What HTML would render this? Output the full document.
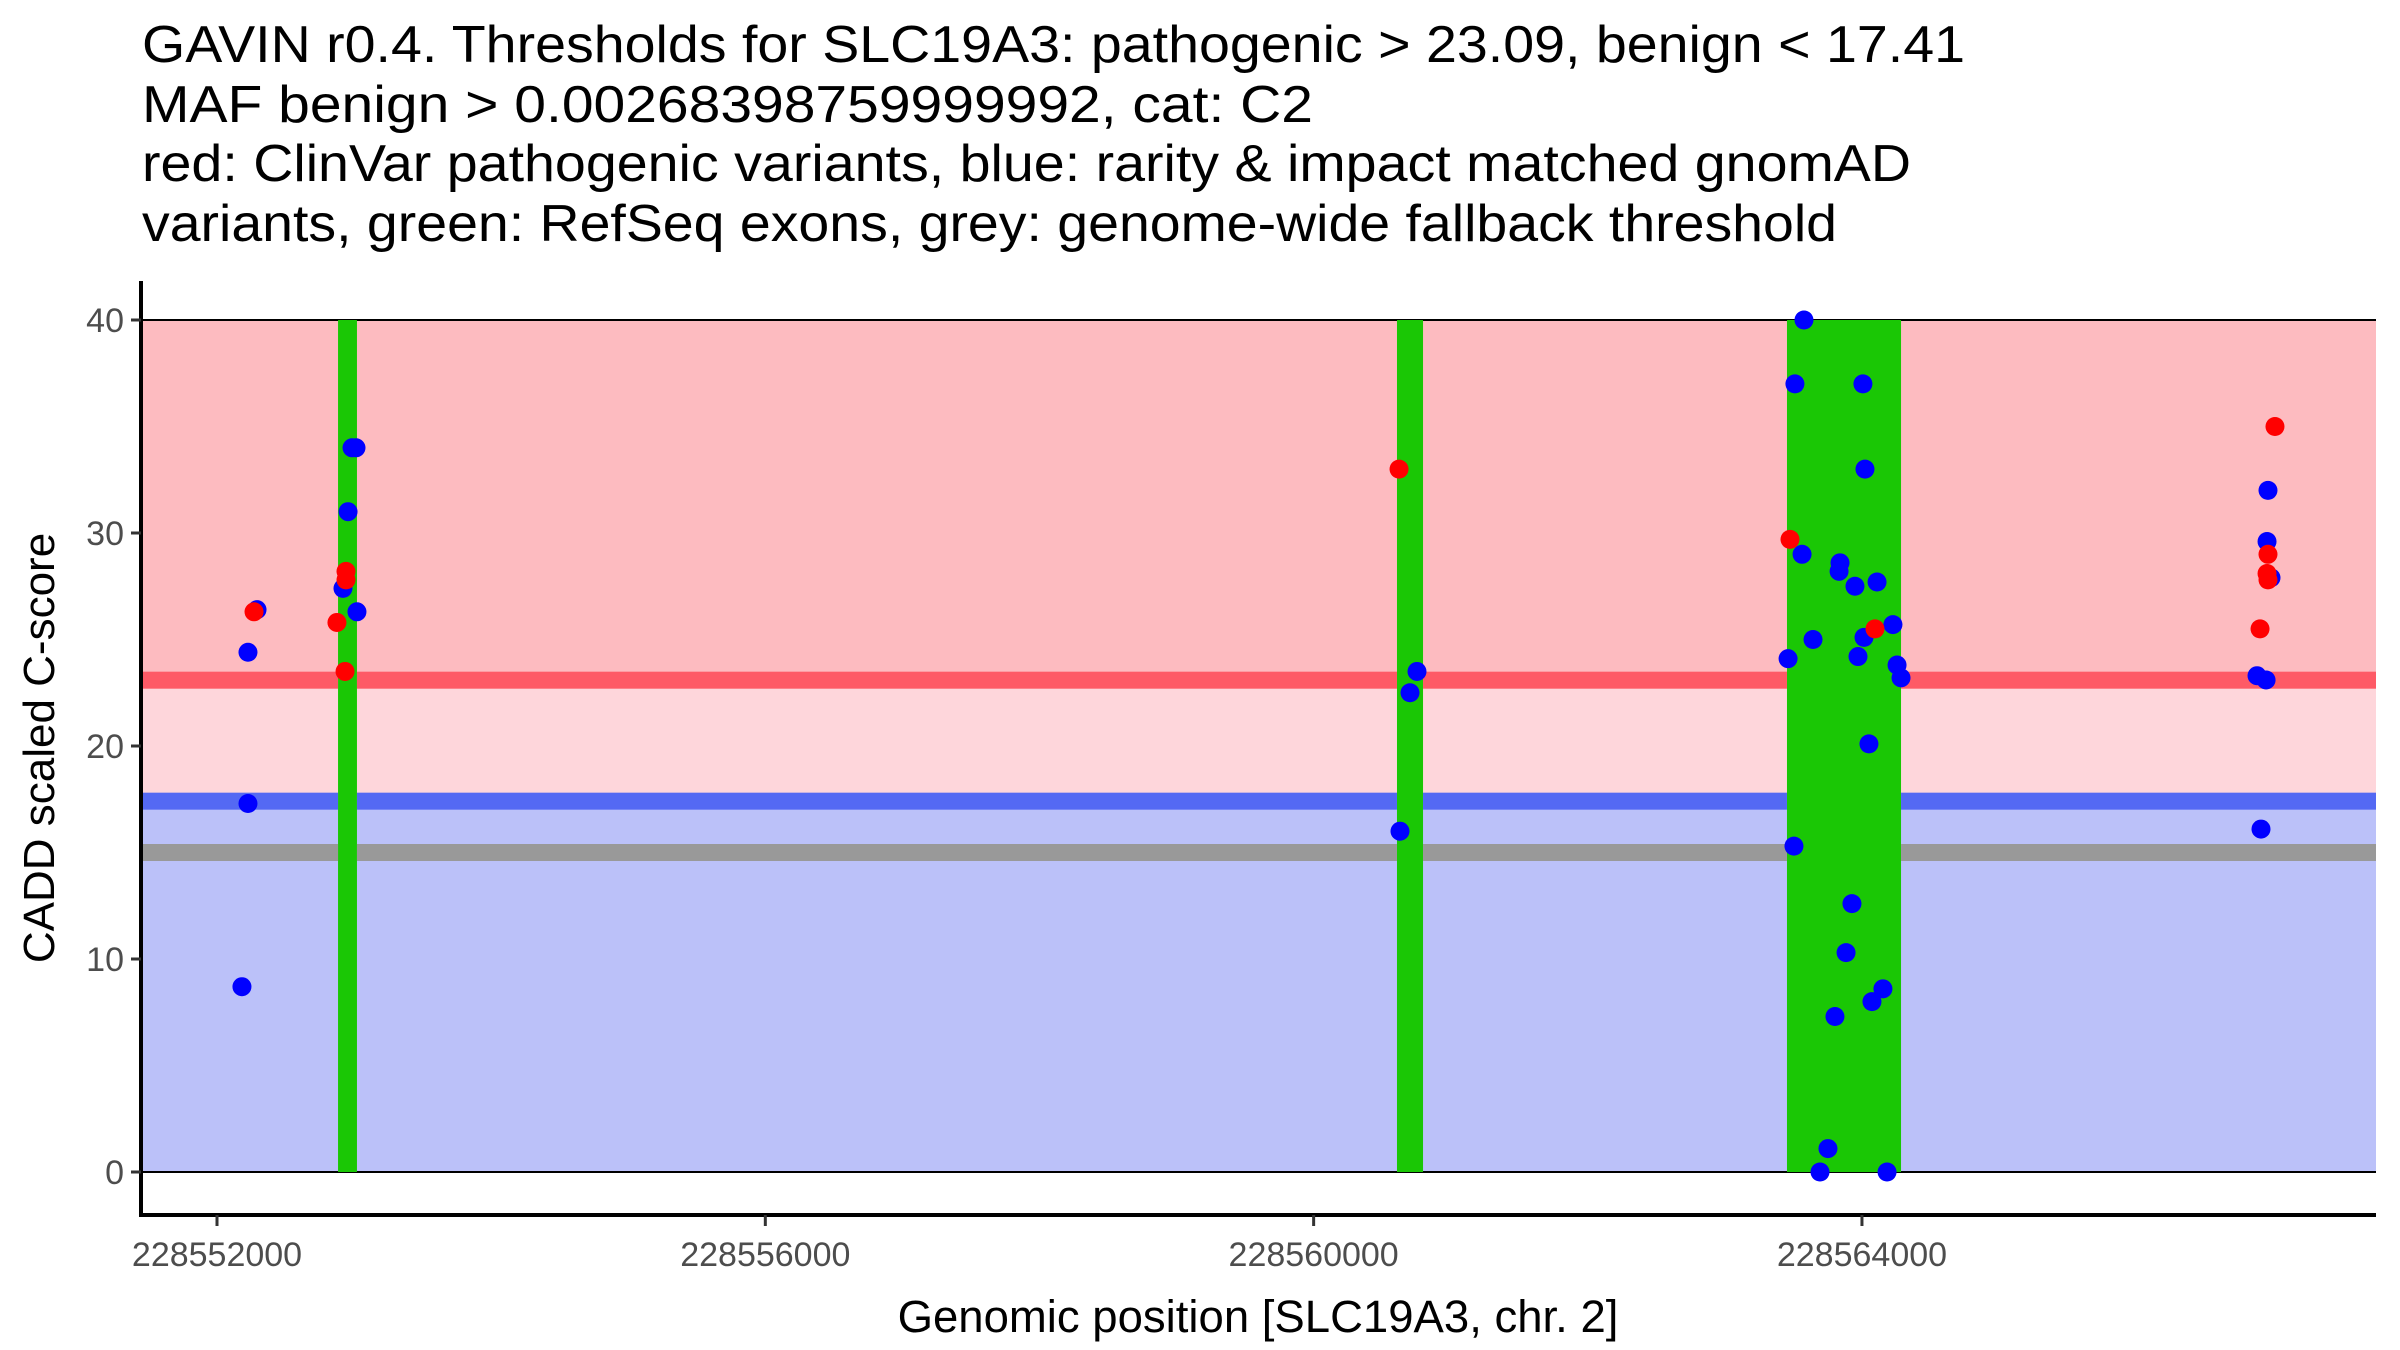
<!DOCTYPE html>
<html><head><meta charset="utf-8"><style>
html,body{margin:0;padding:0;background:#fff;}
svg{display:block;font-family:"Liberation Sans",Arial,sans-serif;}
</style></head><body>
<svg id="chart" width="2400" height="1350" viewBox="0 0 2400 1350" xmlns="http://www.w3.org/2000/svg">
<g font-size="52" fill="#000">
<text x="142" y="62" textLength="1823" lengthAdjust="spacingAndGlyphs">GAVIN r0.4. Thresholds for SLC19A3: pathogenic &gt; 23.09, benign &lt; 17.41</text>
<text x="142" y="122" textLength="1171" lengthAdjust="spacingAndGlyphs">MAF benign &gt; 0.00268398759999992, cat: C2</text>
<text x="142" y="181" textLength="1769" lengthAdjust="spacingAndGlyphs">red: ClinVar pathogenic variants, blue: rarity &amp; impact matched gnomAD</text>
<text x="142" y="241" textLength="1695" lengthAdjust="spacingAndGlyphs">variants, green: RefSeq exons, grey: genome-wide fallback threshold</text>
</g>
<g id="bands"></g>
<g id="exons"></g>
<g id="hlines"></g>
<g id="points"></g>
<g id="axes"></g>
<text x="1258" y="1332" font-size="45.5" text-anchor="middle">Genomic position [SLC19A3, chr. 2]</text>
<text transform="translate(54,748) rotate(-90)" font-size="44" text-anchor="middle">CADD scaled C-score</text>
</svg>
<script>
const thresholdValues = [23.09, 17.41, 15];
const exonStarts = [228552883, 228560608, 228563453];
const exonEnds = [228553021, 228560798, 228564285];
const xTicks = [228552000, 228556000, 228560000, 228564000];
const yTicks = [0, 10, 20, 30, 40];
const pathoPos = [228552270, 228552875, 228552941, 228552941, 228552934, 228560623, 228563475, 228564095, 228567013, 228566962, 228566955, 228566962, 228566904];
const pathoScore = [26.3, 25.8, 28.2, 27.8, 23.5, 33.0, 29.7, 25.5, 35.0, 29.0, 28.1, 27.8, 25.5];
const benignPos = [228552182, 228552226, 228552226, 228552292, 228552919, 228552956, 228552985, 228553014, 228553021,
 228560754, 228560703, 228560630,
 228563577, 228563511, 228564007, 228564022, 228563563, 228563840, 228563833, 228563949, 228564110, 228564226, 228564015, 228563643, 228563461, 228563971, 228564256, 228564285, 228564051, 228563504, 228563927, 228563884, 228564153, 228564073, 228563803, 228563752, 228563694, 228564183,
 228566962, 228566955, 228566984, 228566882, 228566948, 228566911];
const benignScore = [8.7, 24.4, 17.3, 26.4, 27.4, 31.0, 34.0, 34.0, 26.3,
 23.5, 22.5, 16.0,
 40, 37, 37, 33, 29, 28.6, 28.2, 27.5, 27.7, 25.7, 25.1, 25.0, 24.1, 24.2, 23.8, 23.2, 20.1, 15.3, 12.6, 10.3, 8.6, 8.0, 7.3, 1.1, 0, 0,
 32.0, 29.6, 27.9, 23.3, 23.1, 16.1];

const NS = "http://www.w3.org/2000/svg";
const L = 141, R = 2376, T = 281, B = 1215;
function xs(v){ return 217 + (v - 228552000) * 0.13708; }
function ys(v){ return 1172 - v * 21.3; }
function mk(tag, attrs, parent){
  const e = document.createElementNS(NS, tag);
  for (const k in attrs) e.setAttribute(k, attrs[k]);
  parent.appendChild(e); return e;
}
const bands = document.getElementById('bands');
let r;
r = mk('rect', {x:L, y:ys(40), width:R-L, height:ys(thresholdValues[0])-ys(40), fill:'#fdbbc0'}, bands);


r = mk('rect', {x:L, y:ys(thresholdValues[0]), width:R-L, height:ys(thresholdValues[1])-ys(thresholdValues[0]), fill:'#fed6db'}, bands);


r = mk('rect', {x:L, y:ys(thresholdValues[1]), width:R-L, height:ys(0)-ys(thresholdValues[1]), fill:'#bbc1f9'}, bands);


r = mk('line', {x1:L, x2:R, y1:ys(40), y2:ys(40), stroke:'#000', 'stroke-width':2}, bands);


r = mk('line', {x1:L, x2:R, y1:ys(0), y2:ys(0), stroke:'#000', 'stroke-width':2}, bands);



const exG = document.getElementById('exons');
exonStarts.forEach((s, i) => {
  const e = mk('rect', {x:xs(s), y:ys(40), width:xs(exonEnds[i])-xs(s), height:ys(0)-ys(40), fill:'#1ac705'}, exG);
  
  
});

const hl = document.getElementById('hlines');
const hcols = ['#fe5a66', '#5469f3', '#999999'];
const hnames = ['pathogenic-threshold-line', 'benign-threshold-line', 'fallback-threshold-line'];
thresholdValues.forEach((v, i) => {
  const l1 = mk('rect', {x:L, y:ys(v)-8.5, width:xs(exonStarts[0])-L, height:17, fill:hcols[i]}, hl);
  
  
  for (let k = 0; k < exonStarts.length; k++) {
    const x0 = xs(exonEnds[k]);
    const x1 = k + 1 < exonStarts.length ? xs(exonStarts[k+1]) : R;
    const seg = mk('rect', {x:x0, y:ys(v)-8.5, width:x1-x0, height:17, fill:hcols[i]}, hl);
    
    
  }
});

const pg = document.getElementById('points');
benignPos.forEach((p, i) => {
  const c = mk('circle', {cx:xs(p), cy:ys(benignScore[i]), r:9.5, fill:'#0000ff'}, pg);
  
  
});
pathoPos.forEach((p, i) => {
  const c = mk('circle', {cx:xs(p), cy:ys(pathoScore[i]), r:9.5, fill:'#ff0000'}, pg);
  
  
});

const ax = document.getElementById('axes');
let a = mk('line', {x1:L, x2:L, y1:T, y2:B+2, stroke:'#000', 'stroke-width':4}, ax);


a = mk('line', {x1:L-2, x2:R, y1:B, y2:B, stroke:'#000', 'stroke-width':4}, ax);


yTicks.forEach(v => {
  const t = mk('line', {x1:L-10, x2:L, y1:ys(v), y2:ys(v), stroke:'#333', 'stroke-width':3}, ax);
  
  
  const tx = mk('text', {x:L-17, y:ys(v)+12, 'font-size':34, fill:'#4d4d4d', 'text-anchor':'end'}, ax);
  tx.textContent = v;
  
  
});
xTicks.forEach(v => {
  const t = mk('line', {x1:xs(v), x2:xs(v), y1:B, y2:B+11, stroke:'#333', 'stroke-width':3}, ax);
  
  
  const tx = mk('text', {x:xs(v), y:B+51, 'font-size':34, fill:'#4d4d4d', 'text-anchor':'middle'}, ax);
  tx.textContent = v;
  
  
});
</script>
</body></html>
